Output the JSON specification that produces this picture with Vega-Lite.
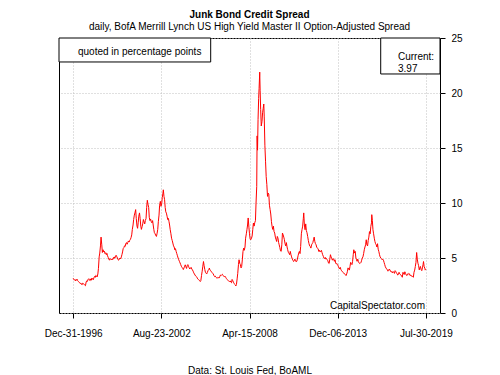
{
 "$schema": "https://vega.github.io/schema/vega-lite/v6.json",
 "width": 381,
 "height": 275,
 "autosize": {"type": "none"},
 "padding": {"left": 59, "top": 38, "right": 60, "bottom": 62},
 "background": "white",
 "title": {"text": "Junk Bond Credit Spread", "subtitle": "daily, BofA Merrill Lynch US High Yield Master II Option-Adjusted Spread", "fontSize": 10, "subtitleFontSize": 10, "fontWeight": "bold", "color": "black", "subtitleColor": "black", "anchor": "middle", "frame": "group", "offset": 1, "subtitlePadding": 2, "font": "Liberation Sans", "subtitleFont": "Liberation Sans"},
 "config": {"font": "Liberation Sans", "view": {"stroke": "black", "strokeWidth": 1},
  "axisX": {"grid": true, "gridDash": [1, 2], "gridColor": "#c0c0c0", "domain": false, "tickColor": "black", "tickSize": 5, "labelPadding": 10, "labelFontSize": 10, "labelColor": "black", "labelFont": "Liberation Sans", "labelFlush": false, "labelOverlap": false, "titleFontWeight": "normal", "titleFontSize": 10, "titleColor": "black", "titleFont": "Liberation Sans", "titlePadding": 27},
  "axisY": {"grid": true, "gridDash": [1, 2], "gridColor": "#c0c0c0", "domain": false, "tickColor": "black", "tickSize": 5, "labelPadding": 6, "labelFontSize": 10, "labelColor": "black", "labelFont": "Liberation Sans", "labelFlush": false, "labelOverlap": false}},
 "datasets": {"spread": [
{"date":"1996-12-31","v":3.16},{"date":"1997-01-15","v":3.08},{"date":"1997-02-01","v":2.98},{"date":"1997-02-15","v":3.04},{"date":"1997-03-01","v":2.92},{"date":"1997-03-15","v":2.98},{"date":"1997-04-01","v":3.08},{"date":"1997-04-15","v":2.95},{"date":"1997-05-01","v":2.88},{"date":"1997-05-15","v":2.8},{"date":"1997-06-01","v":2.76},{"date":"1997-06-15","v":2.68},{"date":"1997-07-01","v":2.72},{"date":"1997-07-15","v":2.6},{"date":"1997-08-01","v":2.58},{"date":"1997-08-15","v":2.72},{"date":"1997-09-01","v":2.66},{"date":"1997-09-15","v":2.6},{"date":"1997-10-01","v":2.52},{"date":"1997-10-15","v":2.48},{"date":"1997-11-01","v":2.82},{"date":"1997-11-15","v":2.92},{"date":"1997-12-01","v":2.88},{"date":"1997-12-15","v":3.05},
{"date":"1998-01-01","v":3.12},{"date":"1998-01-15","v":3.0},{"date":"1998-02-01","v":2.94},{"date":"1998-02-15","v":3.1},{"date":"1998-03-01","v":2.98},{"date":"1998-03-15","v":3.18},{"date":"1998-04-01","v":3.08},{"date":"1998-04-15","v":3.02},{"date":"1998-05-01","v":3.2},{"date":"1998-05-15","v":3.32},{"date":"1998-06-01","v":3.24},{"date":"1998-06-15","v":3.42},{"date":"1998-07-01","v":3.36},{"date":"1998-07-15","v":3.28},{"date":"1998-08-01","v":3.55},{"date":"1998-08-15","v":4.05},{"date":"1998-09-01","v":5.1},{"date":"1998-09-15","v":5.45},{"date":"1998-10-01","v":6.1},{"date":"1998-10-15","v":6.9},{"date":"1998-11-01","v":6.2},{"date":"1998-11-15","v":5.5},{"date":"1998-12-01","v":5.75},{"date":"1998-12-15","v":5.55},
{"date":"1999-01-01","v":5.62},{"date":"1999-01-15","v":5.4},{"date":"1999-02-01","v":5.48},{"date":"1999-02-15","v":5.3},{"date":"1999-03-01","v":5.42},{"date":"1999-03-15","v":5.2},{"date":"1999-04-01","v":5.05},{"date":"1999-04-15","v":4.9},{"date":"1999-05-01","v":4.8},{"date":"1999-05-15","v":4.95},{"date":"1999-06-01","v":4.88},{"date":"1999-06-15","v":4.82},{"date":"1999-07-01","v":4.92},{"date":"1999-07-15","v":4.85},{"date":"1999-08-01","v":5.05},{"date":"1999-08-15","v":4.95},{"date":"1999-09-01","v":5.1},{"date":"1999-09-15","v":5.05},{"date":"1999-10-01","v":5.25},{"date":"1999-10-15","v":5.15},{"date":"1999-11-01","v":5.0},{"date":"1999-11-15","v":4.85},{"date":"1999-12-01","v":4.8},{"date":"1999-12-15","v":4.9},
{"date":"2000-01-01","v":5.0},{"date":"2000-01-15","v":4.92},{"date":"2000-02-01","v":5.1},{"date":"2000-02-15","v":5.3},{"date":"2000-03-01","v":5.55},{"date":"2000-03-15","v":5.85},{"date":"2000-04-01","v":5.95},{"date":"2000-04-15","v":6.1},{"date":"2000-05-01","v":6.05},{"date":"2000-05-15","v":6.3},{"date":"2000-06-01","v":6.4},{"date":"2000-06-15","v":6.25},{"date":"2000-07-01","v":6.4},{"date":"2000-07-15","v":6.55},{"date":"2000-08-01","v":6.45},{"date":"2000-08-15","v":6.6},{"date":"2000-09-01","v":6.7},{"date":"2000-09-15","v":6.85},{"date":"2000-10-01","v":7.1},{"date":"2000-10-15","v":7.6},{"date":"2000-11-01","v":8.0},{"date":"2000-11-15","v":8.5},{"date":"2000-12-01","v":8.9},{"date":"2000-12-15","v":9.1},
{"date":"2001-01-01","v":9.4},{"date":"2001-01-15","v":8.6},{"date":"2001-02-01","v":7.9},{"date":"2001-02-15","v":7.7},{"date":"2001-03-01","v":8.2},{"date":"2001-03-15","v":8.8},{"date":"2001-04-01","v":9.1},{"date":"2001-04-15","v":8.6},{"date":"2001-05-01","v":7.9},{"date":"2001-05-15","v":7.6},{"date":"2001-06-01","v":7.85},{"date":"2001-06-15","v":8.1},{"date":"2001-07-01","v":8.5},{"date":"2001-07-15","v":8.3},{"date":"2001-08-01","v":8.1},{"date":"2001-08-15","v":8.4},{"date":"2001-09-01","v":8.6},{"date":"2001-09-15","v":9.6},{"date":"2001-10-01","v":10.25},{"date":"2001-10-15","v":9.9},{"date":"2001-11-01","v":9.6},{"date":"2001-11-15","v":8.7},{"date":"2001-12-01","v":8.4},{"date":"2001-12-15","v":8.55},
{"date":"2002-01-01","v":8.3},{"date":"2002-01-15","v":8.2},{"date":"2002-02-01","v":8.4},{"date":"2002-02-15","v":8.0},{"date":"2002-03-01","v":7.6},{"date":"2002-03-15","v":7.3},{"date":"2002-04-01","v":7.2},{"date":"2002-04-15","v":7.05},{"date":"2002-05-01","v":6.96},{"date":"2002-05-15","v":7.2},{"date":"2002-06-01","v":7.6},{"date":"2002-06-15","v":8.3},{"date":"2002-07-01","v":8.9},{"date":"2002-07-15","v":9.8},{"date":"2002-08-01","v":10.15},{"date":"2002-08-15","v":9.7},{"date":"2002-09-01","v":9.9},{"date":"2002-09-15","v":10.5},{"date":"2002-10-01","v":10.9},{"date":"2002-10-10","v":11.2},{"date":"2002-10-25","v":10.6},{"date":"2002-11-08","v":10.3},{"date":"2002-11-22","v":9.6},{"date":"2002-12-06","v":9.2},{"date":"2002-12-20","v":9.08},
{"date":"2003-01-05","v":8.8},{"date":"2003-01-20","v":8.5},{"date":"2003-02-05","v":8.6},{"date":"2003-02-20","v":8.3},{"date":"2003-03-05","v":8.0},{"date":"2003-03-20","v":7.57},{"date":"2003-04-05","v":7.2},{"date":"2003-04-20","v":6.8},{"date":"2003-05-05","v":6.6},{"date":"2003-05-20","v":6.36},{"date":"2003-06-05","v":6.1},{"date":"2003-06-20","v":6.0},{"date":"2003-07-05","v":5.75},{"date":"2003-07-20","v":5.85},{"date":"2003-08-05","v":5.6},{"date":"2003-08-20","v":5.4},{"date":"2003-09-05","v":5.2},{"date":"2003-09-20","v":5.0},{"date":"2003-10-05","v":4.84},{"date":"2003-10-20","v":4.7},{"date":"2003-11-05","v":4.55},{"date":"2003-11-20","v":4.4},{"date":"2003-12-05","v":4.25},{"date":"2003-12-20","v":4.15},
{"date":"2004-01-05","v":4.08},{"date":"2004-01-20","v":3.95},{"date":"2004-02-05","v":4.1},{"date":"2004-02-20","v":4.25},{"date":"2004-03-05","v":4.38},{"date":"2004-03-20","v":4.2},{"date":"2004-04-05","v":4.05},{"date":"2004-04-20","v":4.3},{"date":"2004-05-05","v":4.4},{"date":"2004-05-20","v":4.25},{"date":"2004-06-05","v":4.1},{"date":"2004-06-20","v":4.0},{"date":"2004-07-05","v":4.08},{"date":"2004-07-20","v":4.15},{"date":"2004-08-05","v":4.0},{"date":"2004-08-20","v":3.92},{"date":"2004-09-05","v":3.8},{"date":"2004-09-20","v":3.65},{"date":"2004-10-05","v":3.55},{"date":"2004-10-20","v":3.45},{"date":"2004-11-05","v":3.35},{"date":"2004-11-20","v":3.3},{"date":"2004-12-05","v":3.25},{"date":"2004-12-20","v":3.1},
{"date":"2005-01-05","v":3.05},{"date":"2005-01-20","v":3.0},{"date":"2005-02-05","v":2.95},{"date":"2005-02-20","v":2.86},{"date":"2005-03-05","v":2.95},{"date":"2005-03-20","v":3.4},{"date":"2005-04-05","v":3.8},{"date":"2005-04-20","v":4.25},{"date":"2005-05-05","v":4.68},{"date":"2005-05-20","v":4.3},{"date":"2005-06-05","v":3.95},{"date":"2005-06-20","v":3.7},{"date":"2005-07-05","v":3.62},{"date":"2005-07-20","v":3.55},{"date":"2005-08-05","v":3.7},{"date":"2005-08-20","v":3.85},{"date":"2005-09-05","v":3.95},{"date":"2005-09-20","v":4.08},{"date":"2005-10-05","v":3.9},{"date":"2005-10-20","v":3.85},{"date":"2005-11-05","v":3.75},{"date":"2005-11-20","v":3.7},{"date":"2005-12-05","v":3.62},{"date":"2005-12-20","v":3.55},
{"date":"2006-01-05","v":3.4},{"date":"2006-01-20","v":3.31},{"date":"2006-02-05","v":3.35},{"date":"2006-02-20","v":3.25},{"date":"2006-03-05","v":3.2},{"date":"2006-03-20","v":3.25},{"date":"2006-04-05","v":3.16},{"date":"2006-04-20","v":3.22},{"date":"2006-05-05","v":3.18},{"date":"2006-05-20","v":3.3},{"date":"2006-06-05","v":3.45},{"date":"2006-06-20","v":3.4},{"date":"2006-07-05","v":3.47},{"date":"2006-07-20","v":3.52},{"date":"2006-08-05","v":3.4},{"date":"2006-08-20","v":3.35},{"date":"2006-09-05","v":3.31},{"date":"2006-09-20","v":3.35},{"date":"2006-10-05","v":3.25},{"date":"2006-10-20","v":3.15},{"date":"2006-11-05","v":3.05},{"date":"2006-11-20","v":3.0},{"date":"2006-12-05","v":2.95},{"date":"2006-12-20","v":2.9},
{"date":"2007-01-05","v":2.86},{"date":"2007-01-20","v":2.92},{"date":"2007-02-05","v":2.8},{"date":"2007-02-20","v":2.75},{"date":"2007-03-05","v":3.05},{"date":"2007-03-20","v":2.95},{"date":"2007-04-05","v":2.8},{"date":"2007-04-20","v":2.7},{"date":"2007-05-05","v":2.6},{"date":"2007-05-20","v":2.55},{"date":"2007-06-01","v":2.46},{"date":"2007-06-15","v":2.6},{"date":"2007-07-01","v":3.1},{"date":"2007-07-15","v":3.6},{"date":"2007-08-01","v":4.4},{"date":"2007-08-15","v":4.84},{"date":"2007-09-01","v":4.5},{"date":"2007-09-15","v":4.4},{"date":"2007-10-01","v":4.1},{"date":"2007-10-15","v":4.23},{"date":"2007-11-01","v":4.9},{"date":"2007-11-15","v":5.6},{"date":"2007-12-01","v":5.9},{"date":"2007-12-15","v":5.7},
{"date":"2008-01-01","v":6.0},{"date":"2008-01-15","v":6.8},{"date":"2008-02-01","v":7.2},{"date":"2008-02-15","v":7.57},{"date":"2008-03-01","v":8.0},{"date":"2008-03-15","v":8.64},{"date":"2008-04-01","v":7.8},{"date":"2008-04-15","v":7.2},{"date":"2008-05-01","v":6.7},{"date":"2008-05-15","v":6.66},{"date":"2008-06-01","v":6.8},{"date":"2008-06-15","v":7.0},{"date":"2008-07-01","v":7.6},{"date":"2008-07-15","v":8.18},{"date":"2008-08-01","v":7.9},{"date":"2008-08-15","v":8.2},{"date":"2008-09-01","v":8.4},{"date":"2008-09-15","v":10.0},{"date":"2008-10-01","v":11.5},{"date":"2008-10-10","v":16.1},{"date":"2008-10-20","v":14.8},{"date":"2008-11-01","v":17.6},{"date":"2008-11-15","v":19.5},{"date":"2008-11-25","v":20.4},{"date":"2008-12-10","v":21.9},{"date":"2008-12-20","v":20.2},
{"date":"2009-01-01","v":18.5},{"date":"2009-01-15","v":17.0},{"date":"2009-02-01","v":17.4},{"date":"2009-02-15","v":18.2},{"date":"2009-03-01","v":18.6},{"date":"2009-03-15","v":19.0},{"date":"2009-03-25","v":17.9},{"date":"2009-04-10","v":15.2},{"date":"2009-04-25","v":13.8},{"date":"2009-05-10","v":12.4},{"date":"2009-05-25","v":11.7},{"date":"2009-06-10","v":10.6},{"date":"2009-06-25","v":10.9},{"date":"2009-07-10","v":10.8},{"date":"2009-07-25","v":9.8},{"date":"2009-08-10","v":9.4},{"date":"2009-08-25","v":9.0},{"date":"2009-09-10","v":8.3},{"date":"2009-09-25","v":7.87},{"date":"2009-10-10","v":7.6},{"date":"2009-10-25","v":7.9},{"date":"2009-11-10","v":7.4},{"date":"2009-11-25","v":7.27},{"date":"2009-12-10","v":6.9},{"date":"2009-12-25","v":6.7},
{"date":"2010-01-10","v":6.5},{"date":"2010-01-25","v":6.96},{"date":"2010-02-10","v":6.8},{"date":"2010-02-25","v":6.4},{"date":"2010-03-10","v":6.2},{"date":"2010-03-25","v":5.95},{"date":"2010-04-10","v":5.65},{"date":"2010-04-25","v":5.6},{"date":"2010-05-10","v":6.2},{"date":"2010-05-25","v":7.27},{"date":"2010-06-10","v":7.1},{"date":"2010-06-25","v":6.9},{"date":"2010-07-10","v":6.66},{"date":"2010-07-25","v":6.3},{"date":"2010-08-10","v":6.1},{"date":"2010-08-25","v":6.4},{"date":"2010-09-10","v":6.0},{"date":"2010-09-25","v":5.75},{"date":"2010-10-10","v":5.5},{"date":"2010-10-25","v":5.45},{"date":"2010-11-10","v":5.3},{"date":"2010-11-25","v":5.6},{"date":"2010-12-10","v":5.3},{"date":"2010-12-25","v":5.1},
{"date":"2011-01-10","v":4.9},{"date":"2011-01-25","v":4.8},{"date":"2011-02-10","v":4.68},{"date":"2011-02-25","v":4.75},{"date":"2011-03-10","v":4.9},{"date":"2011-03-25","v":4.8},{"date":"2011-04-10","v":4.65},{"date":"2011-04-25","v":4.7},{"date":"2011-05-10","v":4.9},{"date":"2011-05-25","v":5.2},{"date":"2011-06-10","v":5.45},{"date":"2011-06-25","v":5.6},{"date":"2011-07-10","v":5.4},{"date":"2011-07-25","v":6.05},{"date":"2011-08-10","v":7.2},{"date":"2011-08-25","v":7.57},{"date":"2011-09-10","v":7.9},{"date":"2011-09-25","v":8.6},{"date":"2011-10-05","v":9.1},{"date":"2011-10-20","v":8.0},{"date":"2011-11-05","v":7.57},{"date":"2011-11-20","v":8.1},{"date":"2011-12-05","v":7.5},{"date":"2011-12-20","v":7.3},
{"date":"2012-01-05","v":6.96},{"date":"2012-01-20","v":6.6},{"date":"2012-02-05","v":6.3},{"date":"2012-02-20","v":6.1},{"date":"2012-03-05","v":6.05},{"date":"2012-03-20","v":5.9},{"date":"2012-04-05","v":6.2},{"date":"2012-04-20","v":6.3},{"date":"2012-05-05","v":6.4},{"date":"2012-05-20","v":6.66},{"date":"2012-06-05","v":6.9},{"date":"2012-06-20","v":6.5},{"date":"2012-07-05","v":6.3},{"date":"2012-07-20","v":6.2},{"date":"2012-08-05","v":5.95},{"date":"2012-08-20","v":5.9},{"date":"2012-09-05","v":5.85},{"date":"2012-09-20","v":5.6},{"date":"2012-10-05","v":5.7},{"date":"2012-10-20","v":5.55},{"date":"2012-11-05","v":5.6},{"date":"2012-11-20","v":5.7},{"date":"2012-12-05","v":5.5},{"date":"2012-12-20","v":5.3},
{"date":"2013-01-05","v":5.15},{"date":"2013-01-20","v":4.99},{"date":"2013-02-05","v":4.95},{"date":"2013-02-20","v":5.05},{"date":"2013-03-05","v":4.9},{"date":"2013-03-20","v":4.95},{"date":"2013-04-05","v":4.84},{"date":"2013-04-20","v":4.75},{"date":"2013-05-05","v":4.55},{"date":"2013-05-20","v":4.5},{"date":"2013-06-05","v":4.9},{"date":"2013-06-20","v":5.3},{"date":"2013-07-05","v":5.1},{"date":"2013-07-20","v":4.95},{"date":"2013-08-05","v":4.8},{"date":"2013-08-20","v":4.95},{"date":"2013-09-05","v":4.9},{"date":"2013-09-20","v":4.7},{"date":"2013-10-05","v":4.84},{"date":"2013-10-20","v":4.55},{"date":"2013-11-05","v":4.45},{"date":"2013-11-20","v":4.5},{"date":"2013-12-05","v":4.4},{"date":"2013-12-20","v":4.25},
{"date":"2014-01-05","v":4.1},{"date":"2014-01-20","v":4.0},{"date":"2014-02-05","v":4.15},{"date":"2014-02-20","v":3.95},{"date":"2014-03-05","v":3.85},{"date":"2014-03-20","v":3.8},{"date":"2014-04-05","v":3.7},{"date":"2014-04-20","v":3.65},{"date":"2014-05-05","v":3.62},{"date":"2014-05-20","v":3.55},{"date":"2014-06-05","v":3.47},{"date":"2014-06-20","v":3.4},{"date":"2014-07-05","v":3.55},{"date":"2014-07-20","v":3.75},{"date":"2014-08-05","v":4.1},{"date":"2014-08-20","v":4.0},{"date":"2014-09-05","v":3.9},{"date":"2014-09-20","v":4.23},{"date":"2014-10-05","v":4.6},{"date":"2014-10-20","v":4.5},{"date":"2014-11-05","v":4.4},{"date":"2014-11-20","v":4.7},{"date":"2014-12-05","v":5.3},{"date":"2014-12-18","v":5.75},
{"date":"2015-01-05","v":5.45},{"date":"2015-01-20","v":5.6},{"date":"2015-02-05","v":5.0},{"date":"2015-02-20","v":4.84},{"date":"2015-03-05","v":4.7},{"date":"2015-03-20","v":4.9},{"date":"2015-04-05","v":4.68},{"date":"2015-04-20","v":4.55},{"date":"2015-05-05","v":4.5},{"date":"2015-05-20","v":4.53},{"date":"2015-06-05","v":4.6},{"date":"2015-06-20","v":4.8},{"date":"2015-07-05","v":5.0},{"date":"2015-07-20","v":5.1},{"date":"2015-08-05","v":5.4},{"date":"2015-08-20","v":5.75},{"date":"2015-09-05","v":6.0},{"date":"2015-09-20","v":6.2},{"date":"2015-10-05","v":6.66},{"date":"2015-10-20","v":6.2},{"date":"2015-11-05","v":6.1},{"date":"2015-11-20","v":6.6},{"date":"2015-12-05","v":6.9},{"date":"2015-12-20","v":7.4},
{"date":"2016-01-05","v":7.2},{"date":"2016-01-20","v":7.87},{"date":"2016-02-05","v":8.2},{"date":"2016-02-11","v":8.94},{"date":"2016-02-25","v":8.4},{"date":"2016-03-10","v":7.57},{"date":"2016-03-25","v":7.2},{"date":"2016-04-10","v":6.8},{"date":"2016-04-25","v":6.5},{"date":"2016-05-10","v":6.3},{"date":"2016-05-25","v":6.2},{"date":"2016-06-10","v":6.0},{"date":"2016-06-25","v":6.3},{"date":"2016-07-10","v":5.8},{"date":"2016-07-25","v":5.6},{"date":"2016-08-10","v":5.3},{"date":"2016-08-25","v":5.1},{"date":"2016-09-10","v":5.0},{"date":"2016-09-25","v":4.95},{"date":"2016-10-10","v":4.84},{"date":"2016-10-25","v":4.9},{"date":"2016-11-10","v":4.8},{"date":"2016-11-25","v":4.6},{"date":"2016-12-10","v":4.4},{"date":"2016-12-25","v":4.2},
{"date":"2017-01-10","v":4.08},{"date":"2017-01-25","v":4.0},{"date":"2017-02-10","v":3.92},{"date":"2017-02-25","v":3.8},{"date":"2017-03-10","v":3.85},{"date":"2017-03-25","v":4.0},{"date":"2017-04-10","v":3.92},{"date":"2017-04-25","v":3.8},{"date":"2017-05-10","v":3.72},{"date":"2017-05-25","v":3.77},{"date":"2017-06-10","v":3.65},{"date":"2017-06-25","v":3.77},{"date":"2017-07-10","v":3.7},{"date":"2017-07-25","v":3.6},{"date":"2017-08-10","v":3.85},{"date":"2017-08-25","v":3.77},{"date":"2017-09-10","v":3.65},{"date":"2017-09-25","v":3.56},{"date":"2017-10-10","v":3.45},{"date":"2017-10-25","v":3.5},{"date":"2017-11-10","v":3.7},{"date":"2017-11-25","v":3.56},{"date":"2017-12-10","v":3.5},{"date":"2017-12-25","v":3.45},
{"date":"2018-01-10","v":3.35},{"date":"2018-01-25","v":3.25},{"date":"2018-02-10","v":3.7},{"date":"2018-02-25","v":3.55},{"date":"2018-03-10","v":3.5},{"date":"2018-03-25","v":3.75},{"date":"2018-04-10","v":3.6},{"date":"2018-04-25","v":3.47},{"date":"2018-05-10","v":3.4},{"date":"2018-05-25","v":3.55},{"date":"2018-06-10","v":3.5},{"date":"2018-06-25","v":3.6},{"date":"2018-07-10","v":3.56},{"date":"2018-07-25","v":3.4},{"date":"2018-08-10","v":3.45},{"date":"2018-08-25","v":3.35},{"date":"2018-09-10","v":3.37},{"date":"2018-09-25","v":3.3},{"date":"2018-10-10","v":3.25},{"date":"2018-10-25","v":3.7},{"date":"2018-11-10","v":3.9},{"date":"2018-11-25","v":4.23},{"date":"2018-12-10","v":4.6},{"date":"2018-12-26","v":5.5},
{"date":"2019-01-10","v":4.9},{"date":"2019-01-25","v":4.53},{"date":"2019-02-10","v":4.3},{"date":"2019-02-25","v":3.92},{"date":"2019-03-10","v":4.1},{"date":"2019-03-25","v":4.23},{"date":"2019-04-10","v":3.95},{"date":"2019-04-25","v":3.85},{"date":"2019-05-10","v":4.1},{"date":"2019-05-25","v":4.4},{"date":"2019-06-05","v":4.68},{"date":"2019-06-20","v":4.2},{"date":"2019-07-05","v":4.08},{"date":"2019-07-15","v":3.9},{"date":"2019-07-30","v":3.97}
 ]},
 "layer": [
  {
   "data": {"name": "spread"},
   "mark": {"type": "line", "color": "red", "strokeWidth": 1},
   "encoding": {
    "x": {"field": "date", "type": "temporal",
     "scale": {"type": "utc", "domain": [{"year": 1996, "month": 2, "date": 5, "utc": true}, {"year": 2020, "month": 6, "date": 24, "utc": true}]},
     "axis": {"values": [{"year": 1996, "month": 12, "date": 31, "utc": true}, {"year": 2002, "month": 8, "date": 23, "utc": true}, {"year": 2008, "month": 4, "date": 15, "utc": true}, {"year": 2013, "month": 12, "date": 6, "utc": true}, {"year": 2019, "month": 7, "date": 30, "utc": true}],
      "labelExpr": "utcFormat(datum.value, '%b-%d-%Y')", "title": "Data: St. Louis Fed, BoAML"}},
    "y": {"field": "v", "type": "quantitative",
     "scale": {"domain": [0, 25], "nice": false, "zero": true},
     "axis": {"orient": "right", "values": [0, 5, 10, 15, 20, 25], "title": null}}
   }
  },
  {
   "data": {"values": [{}]},
   "mark": {"type": "rect", "fill": "white", "stroke": "black", "strokeWidth": 1},
   "encoding": {
    "x": {"datum": {"year": 1996, "month": 2, "date": 5, "utc": true}, "type": "temporal"},
    "x2": {"datum": {"year": 2005, "month": 10, "date": 21, "utc": true}},
    "y": {"datum": 25, "type": "quantitative"},
    "y2": {"datum": 22.82}
   }
  },
  {
   "data": {"values": [{}]},
   "mark": {"type": "rect", "fill": "white", "stroke": "black", "strokeWidth": 1},
   "encoding": {
    "x": {"datum": {"year": 2016, "month": 9, "date": 7, "utc": true}, "type": "temporal"},
    "x2": {"datum": {"year": 2020, "month": 6, "date": 24, "utc": true}},
    "y": {"datum": 25, "type": "quantitative"},
    "y2": {"datum": 21.73}
   }
  },
  {
   "data": {"values": [{}]},
   "mark": {"type": "text", "align": "left", "baseline": "middle", "fontSize": 10, "font": "Liberation Sans", "color": "black"},
   "encoding": {
    "x": {"datum": {"year": 1997, "month": 4, "date": 23, "utc": true}, "type": "temporal"},
    "y": {"datum": 23.75, "type": "quantitative"},
    "text": {"value": "quoted in percentage points"}
   }
  },
  {
   "data": {"values": [{}]},
   "mark": {"type": "text", "align": "left", "baseline": "middle", "fontSize": 10, "font": "Liberation Sans", "color": "black", "lineBreak": "\n", "lineHeight": 11.5},
   "encoding": {
    "x": {"datum": {"year": 2017, "month": 10, "date": 16, "utc": true}, "type": "temporal"},
    "y": {"datum": 23.24, "type": "quantitative"},
    "text": {"value": "Current:\n3.97"}
   }
  },
  {
   "data": {"values": [{}]},
   "mark": {"type": "text", "align": "right", "baseline": "middle", "fontSize": 10, "font": "Liberation Sans", "color": "black"},
   "encoding": {
    "x": {"datum": {"year": 2019, "month": 7, "date": 9, "utc": true}, "type": "temporal"},
    "y": {"datum": 0.66, "type": "quantitative"},
    "text": {"value": "CapitalSpectator.com"}
   }
  }
 ]
}
